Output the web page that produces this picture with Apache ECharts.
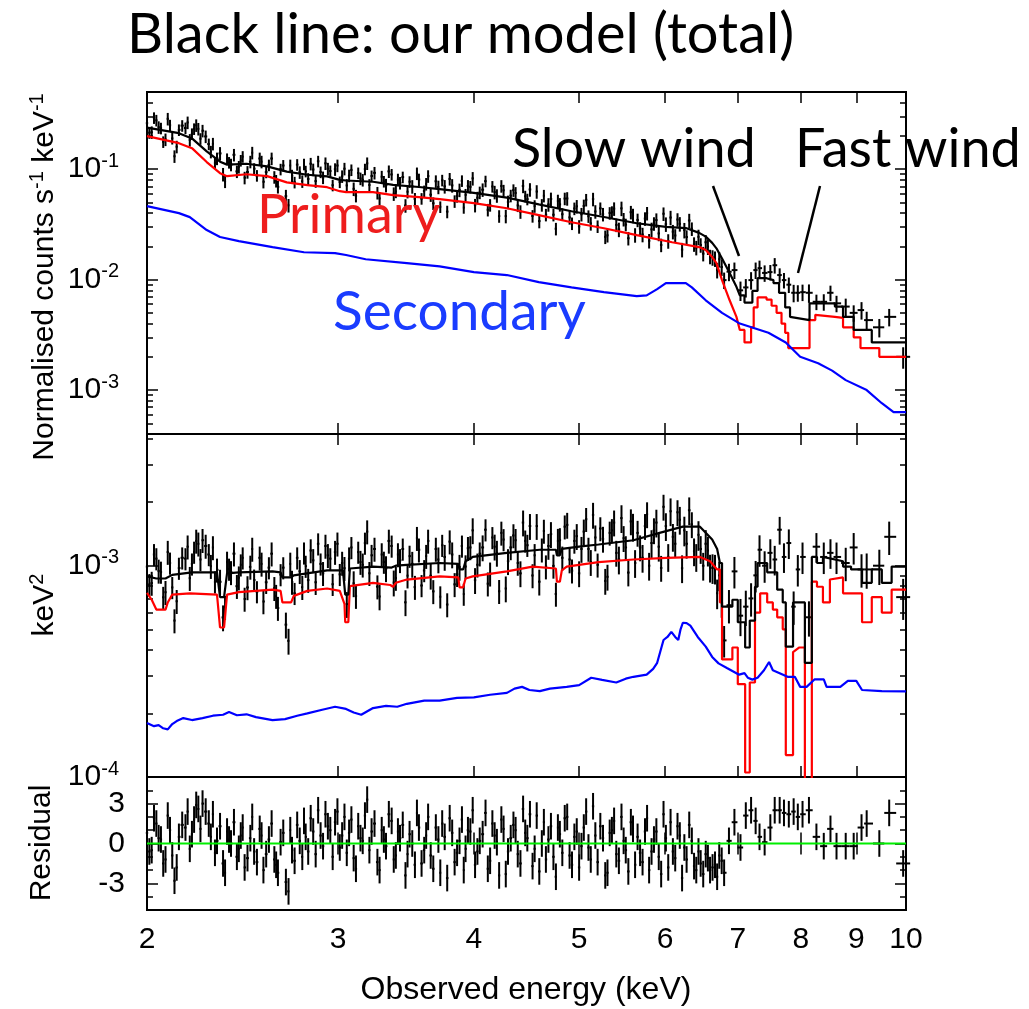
<!DOCTYPE html>
<html><head><meta charset="utf-8">
<script src="https://cdn.jsdelivr.net/npm/echarts@6/dist/echarts.min.js"></script>
<style>html,body{margin:0;padding:0;background:#fff}#c{width:1029px;height:1009px}</style>
</head><body><div id="c"></div>
<script>
// ---------- DATA ----------
// spectral bins, set A (includes the sparse high-energy bins)
const energiesA = [
2.00,2.02,2.04,2.06,2.08,2.10,2.12,2.14,2.17,2.19,
2.21,2.23,2.25,2.28,2.30,2.32,2.35,2.37,2.39,2.42,
2.44,2.46,2.49,2.51,2.54,2.56,2.59,2.62,2.64,2.67,
2.70,2.72,2.75,2.78,2.80,2.83,2.86,2.89,2.92,2.95,
2.98,3.01,3.04,3.07,3.10,3.13,3.16,3.19,3.22,3.26,
3.29,3.32,3.36,3.39,3.42,3.46,3.49,3.53,3.56,3.60,
3.63,3.67,3.71,3.74,3.78,3.82,3.86,3.90,3.93,3.97,
4.01,4.05,4.10,4.14,4.18,4.22,4.26,4.30,4.35,4.39,
4.44,4.48,4.53,4.57,4.62,4.66,4.71,4.76,4.80,4.85,
4.90,4.95,5.00,5.05,5.10,5.15,5.20,5.26,5.31,5.36,
5.41,5.47,5.52,5.58,5.63,5.69,5.75,5.80,5.86,5.92,
5.98,6.04,6.10,6.16,6.22,6.28,6.35,6.41,6.47,6.54,
6.60,6.67,6.73,6.80,
6.87,6.95,7.04,7.12,7.20,7.27,7.33,7.41,7.50,7.57,
7.65,7.72,7.80,7.88,7.95,8.03,8.14,8.27,8.40,8.52,
8.63,8.80,8.95,9.10,9.20,9.45,9.65,9.94];
// spectral bins, set B (interleaved low-energy bins)
const energiesB = [
2.01,2.03,2.05,2.07,2.09,2.11,2.13,2.155,2.18,2.20,
2.22,2.24,2.265,2.29,2.31,2.335,2.36,2.38,2.405,2.43,
2.45,2.475,2.50,2.525,2.55,2.575,2.605,2.63,2.655,2.685,
2.71,2.735,2.765,2.79,2.815,2.845,2.875,2.905,2.935,2.965,
2.995,3.025,3.055,3.085,3.115,3.145,3.175,3.205,3.24,3.275,
3.305,3.34,3.375,3.405,3.44,3.475,3.51,3.545,3.58,3.615,
3.65,3.69,3.725,3.76,3.80,3.84,3.88,3.915,3.95,3.99,
4.03,4.075,4.12,4.16,4.20,4.24,4.28,4.325,4.37,4.415,
4.46,4.505,4.55,4.595,4.64,4.685,4.735,4.78,4.825,4.875,
4.925,4.975,5.025,5.075,5.125,5.175,5.23,5.285,5.335,5.385,
5.44,5.495,5.55,5.605,5.66,5.72,5.775,5.83,5.89,5.95,
6.01,6.07,6.13,6.19,6.25,6.315,6.38,6.44,6.505,6.57,
6.635,6.70,6.765];

// relative 1-sigma errors (percent)
const errPctA = [
12,13,12,12,13,12,13,12,12,13, 12,13,13,12,13,13,14,12,13,13,
12,13,13,12,13,13,12,13,13,12, 14,13,12,13,12,13,13,12,13,12,
13,12,13,13,14,12,13,13,12,13, 13,14,12,13,13,14,12,13,13,12,
13,13,14,12,13,14,13,12,13,13, 14,13,12,13,14,13,12,14,13,13,
14,12,13,14,13,13,14,13,14,13, 14,13,14,14,13,14,13,14,14,13,
14,15,13,14,15,14,14,15,14,15, 14,15,15,14,15,15,14,15,15,16,
15,16,16,17,
18,17,20,19,18,17,17,17,16,16, 15,16,16,18,17,17,19,16,17,16,
17,18,17,18,19,19,18,22];
const errPctB = [
12,12,13,12,13,12,13,12,13,12, 13,12,13,13,12,14,13,12,13,13,
12,13,13,12,13,12,13,13,12,14, 13,12,13,12,13,13,12,13,13,12,
13,13,14,12,13,13,12,13,13,14, 12,13,14,13,12,13,14,13,12,13,
14,13,12,14,13,13,14,12,13,14, 13,14,13,12,14,13,14,13,13,14,
12,14,13,14,13,14,13,14,13,14, 13,14,14,13,14,14,13,14,13,14,
15,14,14,15,14,15,14,15,15,14, 15,15,14,15,16,15,15,16,15,16,
16,16,17];

// top panel: normalised counts s^-1 keV^-1
const countsA = [
0.261,0.216,0.277,0.235,0.186,0.250,0.131,0.227,0.236,0.184,
0.232,0.232,0.223,0.169,0.170,0.125,0.090,0.124,0.110,0.0955,
0.120,0.0838,0.117,0.101,0.125,0.077,0.109,0.0849,0.0692,0.108,
0.0471,0.0874,0.110,0.0778,0.0958,0.112,0.078,0.0943,0.113,0.0963,
0.100,0.0766,0.101,0.0876,0.0664,0.0924,0.080,0.113,0.0868,0.0611,
0.0855,0.0717,0.0896,0.0628,0.0752,0.0469,0.077,0.0539,0.0806,0.0634,
0.0865,0.0491,0.069,0.0794,0.0413,0.0713,0.0572,0.0785,0.0586,0.0692,
0.0472,0.0615,0.0779,0.0474,0.062,0.0376,0.0644,0.0505,0.0645,0.047,
0.0705,0.0535,0.0377,0.0628,0.0474,0.0387,0.0538,0.0289,0.048,0.0542,
0.0366,0.0441,0.0303,0.0465,0.0375,0.0536,0.0304,0.0391,0.0252,0.0408,
0.0313,0.0442,0.0315,0.0408,0.0254,0.029,0.0357,0.0225,0.0322,0.0262,
0.0395,0.0224,0.0272,0.035,0.0187,0.0243,0.0289,0.0195,0.0206,0.0218,
0.0162,0.0155,0.0153,0.0099,
0.0118,0.0122,0.0080,0.0085,0.0099,0.0122,0.0127,0.0115,0.0117,0.0135,
0.0110,0.0099,0.0090,0.0076,0.0076,0.0077,0.0076,0.0063,0.0063,0.0076,
0.0061,0.0057,0.0050,0.0053,0.0043,0.0037,0.0046,0.0020];
const countsB = [
0.214,0.292,0.240,0.177,0.286,0.190,0.160,0.248,0.265,0.209,
0.250,0.189,0.198,0.144,0.114,0.139,0.0775,0.115,0.135,0.105,
0.130,0.0943,0.141,0.0876,0.117,0.0941,0.125,0.0784,0.0999,0.057,
0.108,0.0761,0.0939,0.111,0.0815,0.0993,0.118,0.0842,0.101,0.0716,
0.108,0.0863,0.0713,0.0985,0.0575,0.0824,0.100,0.0719,0.0927,0.0544,
0.0775,0.0956,0.060,0.0805,0.0848,0.0625,0.0698,0.0916,0.0542,0.0736,
0.0588,0.0778,0.0456,0.0699,0.0817,0.0513,0.0649,0.0449,0.0705,0.0826,
0.0552,0.0652,0.0429,0.0697,0.0577,0.0704,0.0376,0.0576,0.0609,0.0413,
0.0569,0.0655,0.0463,0.0339,0.0575,0.0479,0.0387,0.0515,0.0391,0.0543,
0.0323,0.0461,0.0391,0.0528,0.0323,0.0414,0.0442,0.0244,0.0401,0.0439,
0.0285,0.0352,0.0237,0.0381,0.0347,0.0256,0.0399,0.0285,0.0346,0.0206,
0.0318,0.0365,0.0251,0.032,0.0281,0.0343,0.021,0.0244,0.0172,0.0199,
0.0159,0.0122,0.013];

// middle panel: keV^2 (unfolded)
const unfoldedA = [
9.90e-4,8.28e-4,10.8e-4,9.33e-4,7.49e-4,10.3e-4,5.50e-4,9.74e-4,10.8e-4,8.73e-4,
11.6e-4,12.7e-4,13.2e-4,11.3e-4,12.2e-4,9.56e-4,5.69e-4,10.4e-4,9.30e-4,8.00e-4,
10.1e-4,6.96e-4,9.87e-4,8.56e-4,10.9e-4,6.77e-4,9.79e-4,7.82e-4,6.30e-4,9.79e-4,
4.41e-4,8.37e-4,10.9e-4,7.91e-4,9.95e-4,11.8e-4,8.35e-4,10.2e-4,12.4e-4,10.8e-4,
11.6e-4,9.10e-4,9.73e-4,10.8e-4,8.25e-4,11.6e-4,10.1e-4,14.5e-4,11.2e-4,7.96e-4,
11.3e-4,9.72e-4,12.4e-4,8.74e-4,10.6e-4,6.71e-4,11.1e-4,7.92e-4,11.9e-4,9.49e-4,
13.1e-4,7.56e-4,10.7e-4,12.5e-4,6.55e-4,11.3e-4,9.11e-4,12.4e-4,9.91e-4,12.2e-4,
8.54e-4,11.4e-4,14.8e-4,9.16e-4,12.3e-4,7.57e-4,13.3e-4,10.5e-4,13.9e-4,10.3e-4,
16.0e-4,12.5e-4,8.99e-4,15.4e-4,11.9e-4,9.90e-4,14.1e-4,7.35e-4,13.2e-4,15.3e-4,
10.7e-4,13.1e-4,9.20e-4,14.5e-4,12.0e-4,17.4e-4,10.1e-4,13.4e-4,8.86e-4,14.7e-4,
11.5e-4,16.8e-4,12.2e-4,16.2e-4,10.3e-4,12.2e-4,15.4e-4,10.0e-4,14.7e-4,12.3e-4,
19.0e-4,11.0e-4,13.7e-4,17.9e-4,9.73e-4,12.7e-4,15.7e-4,11.0e-4,12.0e-4,12.7e-4,
9.79e-4,9.70e-4,9.00e-4,4.43e-4,
6.5e-4,9.4e-4,5.8e-4,6.4e-4,7.0e-4,9.0e-4,11.9e-4,10.0e-4,11.5e-4,10.7e-4,
14.8e-4,11.0e-4,12.8e-4,6.4e-4,9.6e-4,11.0e-4,5.7e-4,12.3e-4,11.0e-4,11.5e-4,
11.0e-4,10.3e-4,12.2e-4,9.6e-4,9.6e-4,10.0e-4,13.7e-4,7.1e-4];
const unfoldedB = [
8.15e-4,11.3e-4,9.45e-4,7.09e-4,11.6e-4,7.89e-4,6.79e-4,10.9e-4,12.3e-4,10.2e-4,
13.1e-4,10.7e-4,12.4e-4,9.95e-4,8.39e-4,8.39e-4,6.37e-4,9.64e-4,11.4e-4,8.78e-4,
10.9e-4,7.89e-4,12.0e-4,7.54e-4,10.2e-4,8.35e-4,11.4e-4,7.18e-4,9.08e-4,5.26e-4,
10.2e-4,7.40e-4,9.41e-4,11.5e-4,8.55e-4,10.6e-4,12.7e-4,9.21e-4,11.2e-4,8.17e-4,
12.7e-4,10.3e-4,6.58e-4,12.2e-4,7.18e-4,10.4e-4,12.8e-4,9.21e-4,12.0e-4,7.15e-4,
10.4e-4,13.1e-4,8.32e-4,11.3e-4,12.0e-4,8.97e-4,10.2e-4,13.5e-4,8.06e-4,11.1e-4,
8.96e-4,12.0e-4,7.13e-4,11.0e-4,13.0e-4,8.16e-4,9.87e-4,7.34e-4,12.1e-4,14.7e-4,
10.1e-4,12.2e-4,8.22e-4,13.6e-4,11.5e-4,14.3e-4,7.80e-4,12.2e-4,13.2e-4,9.20e-4,
13.1e-4,15.4e-4,11.2e-4,8.40e-4,14.6e-4,12.4e-4,9.98e-4,13.1e-4,10.9e-4,15.6e-4,
9.47e-4,13.8e-4,12.0e-4,16.6e-4,10.4e-4,13.6e-4,15.0e-4,8.47e-4,14.3e-4,16.0e-4,
10.7e-4,13.5e-4,9.28e-4,15.3e-4,14.3e-4,10.9e-4,17.5e-4,12.8e-4,16.0e-4,9.76e-4,
15.4e-4,18.1e-4,12.7e-4,16.5e-4,14.7e-4,18.3e-4,11.7e-4,14.0e-4,10.0e-4,11.8e-4,
9.76e-4,7.41e-4,6.83e-4];

// bottom panel: residuals (sigma)
const residA = [
0.8,-0.5,1.5,0.3,-1.2,1.0,-2.8,0.5,1.2,-0.4,
1.8,2.6,3.0,1.5,2.2,0.2,-1.5,0.9,0.0,-1.0,
0.6,-1.8,0.4,-0.6,1.1,-2.0,0.3,-1.2,-2.2,0.8,
-3.6,-0.5,1.4,-1.0,0.5,1.9,-0.8,0.6,2.2,1.0,
1.6,-0.3,2.0,0.8,-1.1,1.3,0.2,3.3,0.9,-1.4,
1.0,-0.2,1.7,-0.9,0.4,-2.4,0.7,-1.6,1.2,-0.5,
2.0,-1.9,0.3,1.5,-2.6,0.8,-0.7,1.8,-0.4,0.9,
-1.6,0.2,2.3,-1.3,0.6,-2.4,1.1,-0.6,1.4,-0.8,
2.6,0.4,-1.7,2.1,0.0,-1.2,1.3,-2.5,0.7,1.9,
-0.9,0.5,-1.8,1.2,-0.3,2.8,-1.4,0.4,-2.2,1.0,
-0.8,2.0,-0.5,1.6,-1.6,-0.7,0.9,-2.0,0.3,-1.0,
2.2,-1.8,-0.6,1.3,-2.6,-1.2,0.2,-2.0,-1.5,-0.8,
-2.0,-1.6,-0.9,-2.2,
0.2,1.6,-0.3,2.1,2.5,1.7,0.5,0.1,1.2,2.5,
2.5,2.3,2.2,2.4,2.0,2.2,2.5,0.5,-0.2,1.1,
-0.2,-0.2,-0.2,1.2,1.5,0.0,2.3,-1.5];
const residB = [
-0.6,1.9,0.4,-1.5,2.1,-0.9,-1.8,1.4,2.4,0.7,
2.9,1.1,2.4,0.5,-0.7,1.3,-2.2,0.3,1.6,-0.4,
1.2,-1.1,2.0,-1.4,0.6,-0.8,1.5,-1.6,0.1,-2.9,
1.0,-1.3,0.2,1.7,-0.6,0.9,2.5,-0.2,1.3,-1.0,
2.4,0.6,-0.7,1.8,-1.9,0.4,2.1,-0.5,1.5,-2.0,
0.3,2.2,-1.2,0.9,1.4,-0.8,0.0,2.3,-1.5,0.6,
-0.9,1.2,-2.2,0.5,1.9,-1.4,0.2,-2.0,1.0,2.5,
-0.6,0.7,-1.9,1.5,0.1,1.8,-2.3,0.4,1.0,-1.5,
0.8,2.2,-0.4,-2.1,1.6,0.3,-1.0,1.2,-0.7,2.0,
-1.6,0.9,-0.2,2.4,-1.2,0.6,1.3,-2.4,0.8,1.7,
-1.3,0.2,-2.1,1.1,0.5,-1.4,1.9,-0.6,0.9,-2.3,
0.4,1.6,-1.1,0.6,-0.3,1.4,-1.7,-0.6,-2.3,-1.1,
-1.8,-2.5,-1.3];

// model curves [energy keV, value]
const redTop = [[2.00,0.199],[2.14,0.172],[2.20,0.155],[2.27,0.116],[2.335,0.092],[2.37,0.0865],[2.47,0.090],[2.58,0.0865],[2.69,0.076],[2.81,0.0716],[2.93,0.0687],[3.01,0.0632],[3.05,0.062],[3.23,0.062],[3.37,0.0582],[3.56,0.0558],[3.72,0.0536],[4.00,0.0492],[4.29,0.0443],[4.59,0.0384],[4.92,0.0331],[5.27,0.0292],[5.65,0.0253],[6.09,0.0218],[6.45,0.0197],[6.54,0.0185],[6.63,0.016],[6.69,0.0141],[6.77,0.0099],[6.88,0.0065],[6.98,0.0046],[7.03,0.0035],[7.10,0.0035],[7.10,0.0027],[7.20,0.0027],[7.20,0.0037],[7.24,0.0037],[7.24,0.0056],[7.30,0.0056],[7.30,0.0069],[7.44,0.0069],[7.44,0.0066],[7.52,0.0066],[7.52,0.0058],[7.60,0.0058],[7.60,0.0050],[7.68,0.0050],[7.68,0.0040],[7.74,0.0040],[7.74,0.0033],[7.79,0.0033],[7.79,0.0024],[8.15,0.0024],[8.15,0.0043],[8.25,0.0043],[8.25,0.0048],[8.60,0.0046],[8.75,0.0045],[8.75,0.0037],[8.95,0.0037],[8.95,0.0030],[9.08,0.0030],[9.08,0.0024],[9.45,0.0024],[9.45,0.0020],[10.0,0.0020]];
const blackTop = [[2.00,0.238],[2.14,0.212],[2.20,0.190],[2.27,0.145],[2.335,0.117],[2.37,0.110],[2.47,0.112],[2.58,0.106],[2.69,0.095],[2.81,0.089],[2.93,0.086],[3.01,0.080],[3.05,0.079],[3.23,0.077],[3.37,0.072],[3.56,0.069],[3.72,0.066],[4.00,0.061],[4.29,0.0553],[4.59,0.048],[4.92,0.0416],[5.27,0.0369],[5.65,0.0324],[6.01,0.0300],[6.27,0.0293],[6.45,0.0265],[6.54,0.0245],[6.63,0.0215],[6.69,0.0192],[6.77,0.0155],[6.88,0.0115],[6.98,0.0086],[7.03,0.0072],[7.10,0.0072],[7.10,0.0062],[7.22,0.0062],[7.22,0.0079],[7.30,0.0079],[7.30,0.0103],[7.44,0.0103],[7.44,0.0099],[7.55,0.0099],[7.55,0.0093],[7.64,0.0093],[7.64,0.0076],[7.74,0.0076],[7.74,0.0056],[7.82,0.0056],[7.82,0.0046],[8.15,0.0043],[8.15,0.0061],[8.60,0.0061],[8.60,0.0057],[8.75,0.0057],[8.75,0.0046],[8.95,0.0046],[8.95,0.0035],[9.30,0.0035],[9.30,0.0027],[10.0,0.0027]];
const blueTop = [[2.00,0.0463],[2.14,0.040],[2.19,0.0368],[2.27,0.0281],[2.335,0.0243],[2.43,0.0223],[2.61,0.0197],[2.79,0.0177],[2.98,0.0174],[3.05,0.0167],[3.18,0.0153],[3.47,0.0141],[3.72,0.0132],[4.00,0.0117],[4.29,0.0110],[4.59,0.0095],[4.92,0.0085],[5.27,0.0077],[5.65,0.0071],[5.77,0.0072],[5.90,0.0082],[6.01,0.0093],[6.27,0.0093],[6.35,0.0085],[6.54,0.0065],[6.77,0.0050],[7.03,0.0040],[7.47,0.0033],[7.75,0.0027],[7.99,0.0020],[8.30,0.00175],[8.55,0.0015],[8.80,0.00123],[9.20,0.0010],[9.50,0.00076],[9.74,0.00063],[10.0,0.00063]];

const redMid = [[2.00,7.44e-4],[2.02,6.9e-4],[2.04,6.2e-4],[2.08,6.2e-4],[2.09,6.7e-4],[2.11,7.3e-4],[2.19,7.4e-4],[2.32,7.3e-4],[2.335,5.1e-4],[2.355,5.1e-4],[2.37,7.3e-4],[2.43,7.5e-4],[2.61,7.7e-4],[2.655,7.6e-4],[2.665,6.7e-4],[2.715,6.7e-4],[2.73,7.2e-4],[2.81,7.6e-4],[2.93,7.8e-4],[3.01,7.6e-4],[3.04,6.6e-4],[3.045,5.4e-4],[3.065,5.4e-4],[3.075,8.0e-4],[3.23,8.3e-4],[3.35,8.1e-4],[3.37,7.95e-4],[3.39,8.3e-4],[3.47,8.6e-4],[3.72,8.9e-4],[3.87,8.8e-4],[3.88,7.9e-4],[3.91,7.9e-4],[3.93,8.7e-4],[3.99,8.9e-4],[4.29,9.4e-4],[4.53,9.9e-4],[4.76,9.7e-4],[4.77,8.4e-4],[4.80,8.4e-4],[4.82,9.5e-4],[4.87,9.9e-4],[5.21,1.04e-3],[5.61,1.07e-3],[6.02,1.09e-3],[6.46,1.1e-3],[6.60,1.05e-3],[6.70,9.6e-4],[6.74,9.6e-4],[6.74,6.7e-4],[6.77,6.7e-4],[6.77,3.6e-4],[6.92,3.6e-4],[6.92,4.1e-4],[7.00,4.1e-4],[7.00,2.75e-4],[7.11,2.75e-4],[7.11,1.05e-4],[7.18,1.05e-4],[7.18,2.8e-4],[7.26,2.8e-4],[7.26,6.0e-4],[7.34,6.0e-4],[7.34,7.4e-4],[7.45,7.4e-4],[7.45,6.7e-4],[7.54,6.7e-4],[7.54,6.2e-4],[7.61,6.2e-4],[7.61,5.7e-4],[7.70,5.7e-4],[7.70,5.0e-4],[7.75,5.0e-4],[7.75,1.27e-4],[7.87,1.27e-4],[7.87,3.9e-4],[7.97,4.1e-4],[8.07,4.1e-4],[8.07,9e-5],[8.19,9e-5],[8.19,8.4e-4],[8.28,8.4e-4],[8.28,7.95e-4],[8.385,7.95e-4],[8.385,6.7e-4],[8.51,6.7e-4],[8.51,8.6e-4],[8.75,8.8e-4],[8.75,7.4e-4],[9.11,7.4e-4],[9.11,5.4e-4],[9.30,5.4e-4],[9.30,7.1e-4],[9.50,7.1e-4],[9.50,6.0e-4],[9.70,6.0e-4],[9.70,7.7e-4],[10.0,7.7e-4]];
const blackMid = [[2.00,8.9e-4],[2.04,8.7e-4],[2.08,8.7e-4],[2.11,9.05e-4],[2.20,9.3e-4],[2.32,9.3e-4],[2.335,7.1e-4],[2.355,7.1e-4],[2.37,9.2e-4],[2.43,9.3e-4],[2.61,9.4e-4],[2.655,9.3e-4],[2.665,8.8e-4],[2.715,8.8e-4],[2.73,9.0e-4],[2.93,9.5e-4],[3.03,9.5e-4],[3.045,7.3e-4],[3.065,7.3e-4],[3.075,9.7e-4],[3.23,9.9e-4],[3.36,9.8e-4],[3.39,1.0e-3],[3.47,1.01e-3],[3.72,1.03e-3],[3.87,1.02e-3],[3.88,9.6e-4],[3.91,9.6e-4],[3.93,1.05e-3],[3.99,1.1e-3],[4.29,1.15e-3],[4.60,1.19e-3],[4.76,1.19e-3],[4.77,1.12e-3],[4.80,1.12e-3],[4.82,1.2e-3],[5.00,1.23e-3],[5.21,1.26e-3],[5.61,1.32e-3],[5.93,1.43e-3],[6.23,1.53e-3],[6.46,1.53e-3],[6.54,1.43e-3],[6.63,1.33e-3],[6.70,1.2e-3],[6.74,1.03e-3],[6.77,1.03e-3],[6.77,6.4e-4],[6.92,6.4e-4],[6.92,6.9e-4],[7.00,6.9e-4],[7.00,5.4e-4],[7.11,5.4e-4],[7.11,4.1e-4],[7.18,4.1e-4],[7.18,5.5e-4],[7.26,5.5e-4],[7.26,7.95e-4],[7.30,7.95e-4],[7.30,1.03e-3],[7.45,1.03e-3],[7.45,9.3e-4],[7.61,9.3e-4],[7.61,7.7e-4],[7.70,7.7e-4],[7.70,6.7e-4],[7.75,6.7e-4],[7.75,4.14e-4],[7.87,4.14e-4],[7.87,6.7e-4],[8.07,6.7e-4],[8.07,3.47e-4],[8.19,3.47e-4],[8.19,1.1e-3],[8.28,1.1e-3],[8.28,1.03e-3],[8.385,1.03e-3],[8.385,1.1e-3],[8.75,1.05e-3],[8.75,9.9e-4],[8.90,9.9e-4],[8.90,9.6e-4],[9.11,9.6e-4],[9.11,8.3e-4],[9.30,8.3e-4],[9.30,9.6e-4],[9.50,9.6e-4],[9.50,8.3e-4],[9.70,8.3e-4],[9.70,9.9e-4],[10.0,9.9e-4]];
const blueMid = [[2.00,1.80e-4],[2.03,1.74e-4],[2.05,1.76e-4],[2.07,1.70e-4],[2.09,1.68e-4],[2.11,1.78e-4],[2.13,1.84e-4],[2.16,1.90e-4],[2.20,1.86e-4],[2.25,1.90e-4],[2.30,1.95e-4],[2.35,1.97e-4],[2.38,2.03e-4],[2.42,1.96e-4],[2.47,1.98e-4],[2.52,1.92e-4],[2.61,1.86e-4],[2.68,1.88e-4],[2.75,1.95e-4],[2.81,2.00e-4],[2.90,2.08e-4],[2.98,2.15e-4],[3.05,2.10e-4],[3.10,2.02e-4],[3.15,1.97e-4],[3.23,2.12e-4],[3.32,2.17e-4],[3.40,2.15e-4],[3.47,2.22e-4],[3.60,2.30e-4],[3.72,2.30e-4],[3.86,2.37e-4],[4.00,2.38e-4],[4.14,2.45e-4],[4.29,2.50e-4],[4.36,2.62e-4],[4.43,2.67e-4],[4.50,2.58e-4],[4.60,2.55e-4],[4.70,2.62e-4],[4.87,2.67e-4],[5.00,2.72e-4],[5.13,2.95e-4],[5.25,2.88e-4],[5.41,2.80e-4],[5.52,2.92e-4],[5.61,2.98e-4],[5.77,3.05e-4],[5.85,3.25e-4],[5.90,3.47e-4],[5.98,4.45e-4],[6.03,4.6e-4],[6.08,4.86e-4],[6.13,4.6e-4],[6.17,4.45e-4],[6.20,5.0e-4],[6.23,5.37e-4],[6.28,5.35e-4],[6.33,5.2e-4],[6.43,4.6e-4],[6.54,4.14e-4],[6.63,3.7e-4],[6.72,3.45e-4],[6.84,3.28e-4],[7.02,3.05e-4],[7.10,3.1e-4],[7.15,2.95e-4],[7.22,2.89e-4],[7.30,2.95e-4],[7.40,3.2e-4],[7.48,3.5e-4],[7.54,3.2e-4],[7.65,3.1e-4],[7.78,2.98e-4],[7.90,2.98e-4],[7.99,2.67e-4],[8.10,2.67e-4],[8.24,2.9e-4],[8.40,2.9e-4],[8.45,2.67e-4],[8.70,2.67e-4],[8.84,2.85e-4],[9.00,2.85e-4],[9.11,2.58e-4],[9.50,2.55e-4],[10.0,2.54e-4]];
const residZero = [[2,0],[10,0]];

const xTickLabels = [2,3,4,5,6,7,8,9,10];
const xMajorTicks = [3,4,5,6,7,8,9];
const topMajors = [1e-3,1e-2,1e-1];
const midMajors = [1e-4,1e-3];
const resMajors = [-3,0,3];
const resMinors = [-4,-2,-1,1,2,4];

// ---------- BUILD ----------
const FONT = '"Liberation Sans", Arial, Helvetica, sans-serif';
const AFONT = 'Lato, "Noto Sans", sans-serif';

// merge the two bin sets, sorted by energy
const bins = [];
energiesA.forEach((e,i)=>bins.push({e, c:countsA[i], u:unfoldedA[i], r:residA[i], p:errPctA[i]/100}));
energiesB.forEach((e,i)=>bins.push({e, c:countsB[i], u:unfoldedB[i], r:residB[i], p:errPctB[i]/100}));
bins.sort((a,b)=>a.e-b.e);
const N = bins.length;
bins.forEach((b,i)=>{
  const e=b.e;
  let lo = i>0 ? Math.sqrt(bins[i-1].e*e) : e*Math.sqrt(e/bins[i+1].e);
  let hi = i<N-1 ? Math.sqrt(bins[i+1].e*e) : e*Math.sqrt(e/bins[i-1].e);
  const cap = Math.pow(10,0.0065);
  b.lo=Math.max(lo,e/cap); b.hi=Math.min(hi,e*cap);
});

function logMinors(min, max){
  const out=[];
  for(let d=-6; d<=1; d++) for(let k=2;k<=9;k++){ const v=+(k*Math.pow(10,d)).toPrecision(3); if(v>min*1.001 && v<max*0.999) out.push(v); }
  return out;
}
const countBars = bins.map(b=>[b.e,b.c,b.c*(1-b.p),b.c*(1+b.p),b.lo,b.hi]);
const unfoldBars = bins.map(b=>[b.e,b.u,b.u*(1-b.p),b.u*(1+b.p),b.lo,b.hi]);
const residBars = bins.map(b=>[b.e,b.r,b.r-1,b.r+1,b.lo,b.hi]);

function renderBars(params, api){
  const e=api.value(0), y=api.value(1);
  const c=api.coord([e,y]), lo=api.coord([e,api.value(2)]), hi=api.coord([e,api.value(3)]);
  const l=api.coord([api.value(4),y]), r=api.coord([api.value(5),y]);
  const cs=params.coordSys;
  const cy=v=>Math.max(cs.y,Math.min(cs.y+cs.height,v));
  const ch=[{type:'line',shape:{x1:c[0],y1:cy(lo[1]),x2:c[0],y2:cy(hi[1])},style:{stroke:'#000',lineWidth:2}}];
  if(c[1]>=cs.y && c[1]<=cs.y+cs.height) ch.push({type:'line',shape:{x1:l[0],y1:c[1],x2:r[0],y2:c[1]},style:{stroke:'#000',lineWidth:2}});
  return {type:'group',children:ch};
}

const tickStyle={color:'#000',width:1.5};
const RICH={b:{fontSize:30,lineHeight:36,fontFamily:FONT,color:'#000'},s:{fontSize:20,lineHeight:15,verticalAlign:'top',fontFamily:FONT,color:'#000'}};
const logFmt=v=>'{b|10}{s|'+Math.round(Math.log10(v))+'}';

const grids=[{left:147,width:759,top:92,height:342},{left:147,width:759,top:434,height:343},{left:147,width:759,top:777,height:133}]
  .map(g=>Object.assign(g,{show:true,borderColor:'#000',borderWidth:2,backgroundColor:'transparent'}));

const xAxis=[];
for(let g=0; g<3; g++){
  const base={type:'log',logBase:10,min:2,max:10,gridIndex:g,axisLine:{show:false},splitLine:{show:false},minorTick:{show:false}};
  xAxis.push(Object.assign({},base,{position:'bottom',axisTick:{show:true,inside:true,length:11,customValues:xMajorTicks,lineStyle:tickStyle},
    axisLabel:{show:g===2,customValues:xTickLabels,formatter:v=>String(Math.round(v)),margin:15,color:'#000',fontSize:30,fontFamily:FONT}}));
  xAxis.push(Object.assign({},base,{position:'top',axisTick:{show:true,inside:true,length:11,customValues:xMajorTicks,lineStyle:tickStyle},axisLabel:{show:false}}));
}
function yAxes(g,type,min,max,majors,minors,fmt,margin){
  const base={type,gridIndex:g,min,max,axisLine:{show:false},splitLine:{show:false}};
  if(type==='log') base.logBase=10;
  const out=[];
  for(const pos of ['left','right']){
    out.push(Object.assign({},base,{position:pos,axisTick:{show:true,inside:true,length:11,customValues:majors,lineStyle:tickStyle},
      axisLabel:{show:pos==='left',customValues:majors,formatter:fmt,margin,color:'#000',fontFamily:FONT,fontSize:30,rich:RICH}}));
    out.push(Object.assign({},base,{position:pos,axisTick:{show:true,inside:true,length:6,customValues:minors,lineStyle:tickStyle},axisLabel:{show:false}}));
  }
  return out;
}
const yAxis=[].concat(
  yAxes(0,'log',4e-4,0.5,topMajors,logMinors(4e-4,0.5),logFmt,28),
  yAxes(1,'log',1e-4,4.2e-3,midMajors,logMinors(1e-4,4.2e-3),logFmt,28),
  yAxes(2,'value',-5,5,resMajors,resMinors,v=>String(v),22)
);

function lineS(data,g,color){
  return {type:'line',data,xAxisIndex:2*g,yAxisIndex:4*g,showSymbol:false,symbol:'none',lineStyle:{color,width:2.2},itemStyle:{color},clip:true,silent:true,animation:false,z:3};
}
function barS(data,g){
  return {type:'custom',coordinateSystem:'cartesian2d',xAxisIndex:2*g,yAxisIndex:4*g,data,renderItem:renderBars,encode:{x:0,y:1},silent:true,animation:false,z:2};
}

const series=[
  barS(countBars,0), lineS(redTop,0,'#ff0000'), lineS(blueTop,0,'#0000ff'), lineS(blackTop,0,'#000000'),
  barS(unfoldBars,1), lineS(redMid,1,'#ff0000'), lineS(blueMid,1,'#0000ff'), lineS(blackMid,1,'#000000'),
  lineS(residZero,2,'#00ee00'), barS(residBars,2)
];

const txt=(text,x,y,opts)=>Object.assign({type:'text',x,y,z:100,style:Object.assign({text,fill:'#000',fontFamily:AFONT,fontSize:54,align:'left',verticalAlign:'middle'},opts||{})});
const SUPR={n:{fontSize:30,lineHeight:36,fontFamily:FONT,fill:'#000'},s:{fontSize:20,lineHeight:15,verticalAlign:'top',fontFamily:FONT,fill:'#000'}};
const graphic=[
  txt('Black line: our model (total)',127,35,{fontSize:56}),
  txt('Slow wind',512,150),
  txt('Fast wind',795,150),
  txt('Primary',257,216,{fill:'#ee1d1d'}),
  txt('Secondary',333,312,{fill:'#1a3cff',fontSize:55}),
  {type:'line',z:100,shape:{x1:713,y1:186,x2:739,y2:256},style:{stroke:'#000',lineWidth:2.5}},
  {type:'line',z:100,shape:{x1:820,y1:186,x2:798,y2:273},style:{stroke:'#000',lineWidth:2.5}},
  {type:'text',z:100,x:45,y:277,rotation:Math.PI/2,style:{text:'{n|Normalised counts s}{s|-1}{n| keV}{s|-1}',align:'center',verticalAlign:'middle',rich:SUPR}},
  {type:'text',z:100,x:45,y:605,rotation:Math.PI/2,style:{text:'{n|keV}{s|2}',align:'center',verticalAlign:'middle',rich:SUPR}},
  {type:'text',z:100,x:42,y:843,rotation:Math.PI/2,style:{text:'Residual',align:'center',verticalAlign:'middle',fontSize:30,fontFamily:FONT,fill:'#000'}},
  {type:'text',z:100,x:526,y:990,style:{text:'Observed energy (keV)',align:'center',verticalAlign:'middle',fontSize:32,fontFamily:FONT,fill:'#000'}}
];

const chart=echarts.init(document.getElementById('c'),null,{renderer:'canvas'});
chart.setOption({animation:false,backgroundColor:'#fff',grid:grids,xAxis,yAxis,series,graphic});
</script></body></html>
